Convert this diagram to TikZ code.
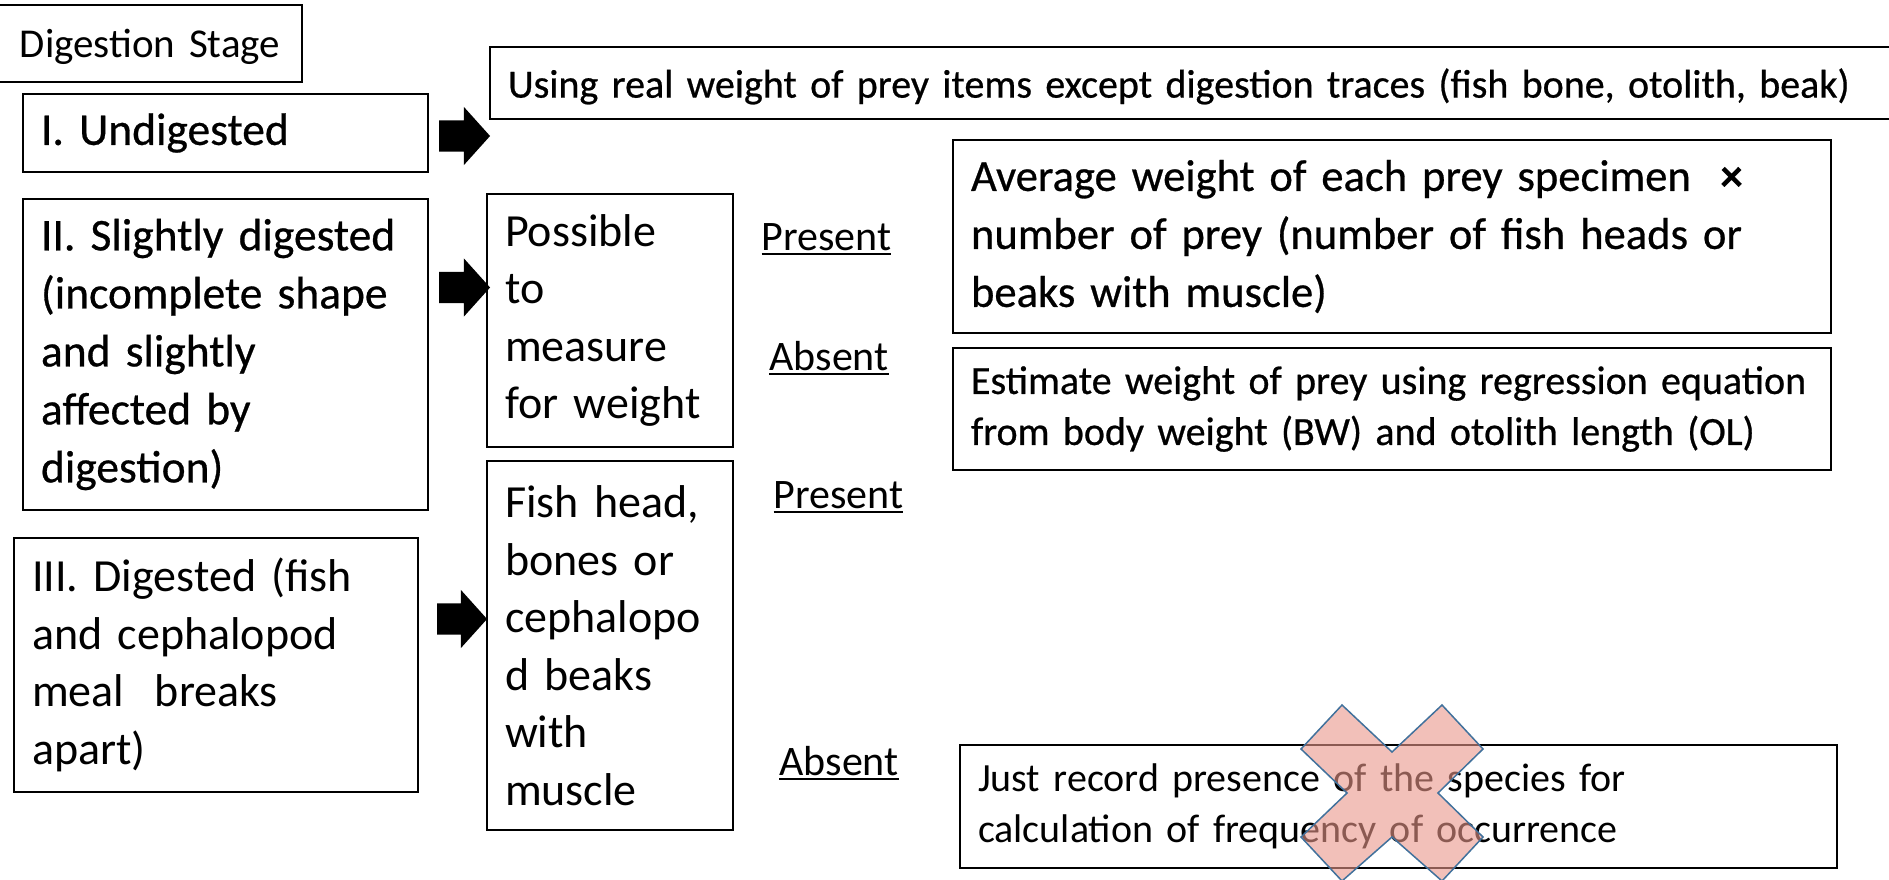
\documentclass[tikz,border=0pt]{standalone}
\usepackage{fontspec}
\setmainfont{Carlito}
\usetikzlibrary{shapes.arrows,positioning}
\definecolor{crossfill}{RGB}{233,150,138}
\definecolor{crossline}{RGB}{65,113,156}
\newcommand{\underword}[1]{\setbox0=\hbox{#1}\rlap{\rule[-5pt]{\wd0}{2pt}}\box0}

\begin{document}
\begin{tikzpicture}[
  x=1pt, y=-1pt,
  box/.style={draw, line width=1.8pt, anchor=north west, align=left, inner xsep=18pt, inner ysep=0pt, outer sep=0pt},
  stagehead/.style={font=\fontsize{41}{46}\selectfont},
  big/.style={font=\fontsize{45.5}{58}\selectfont\addfontfeature{FakeBold=0.6}},
  light/.style={font=\fontsize{46}{57.5}\selectfont},
  wide/.style={font=\fontsize{44.6}{58}\selectfont\addfontfeature{FakeBold=0.6}},
  plain/.style={font=\fontsize{40}{51}\selectfont\addfontfeature{FakeBold=0.6}},
  thin/.style={font=\fontsize{40}{51}\selectfont},
  blockarrow/.style={single arrow, fill=black, draw=none, minimum width=58pt, minimum height=51pt,
    single arrow head extend=13.5pt, single arrow tip angle=96, inner xsep=0pt, inner ysep=15.5pt, outer sep=0pt},
  answer/.style={anchor=base, font=\fontsize{42}{48}\selectfont},
  crossmark/.style={draw=crossline, line width=1.5pt, fill=crossfill, fill opacity=0.6, line join=miter}
]
\useasboundingbox (0,0) rectangle (1889,880);

% digestion stages
\node[box, stagehead, align=center, text width=268pt, text depth=0pt, minimum height=77pt] (stage) at (-2,5) {Digestion Stage};
\node[box, big, text width=369pt, minimum height=78pt] (undig) at (23,94) {I. Undigested};
\node[box, big, text width=369pt, minimum height=311pt] (slight) at (23,199)
  {II. Slightly digested\\(incomplete shape\\and slightly\\affected by\\digestion)};
\node[box, light, text width=368pt, minimum height=254pt] (digest) at (14,538)
  {III. Digested (fish\\and cephalopod\\meal\ \ breaks\\apart)};

% what is left of the prey
\node[box, light, text width=210pt, minimum height=253pt] (measure) at (487,194)
  {Possible\\to\\measure\\for weight};
\node[box, light, text width=210pt, minimum height=369pt] (remains) at (487,461)
  {Fish head,\\bones or\\cephalopo\\d beaks\\with\\muscle};

% block arrows
\node[blockarrow] (arrI) at (457.5,136) {};
\node[blockarrow] (arrII) at (457.5,287.5) {};
\node[blockarrow, minimum height=50pt] (arrIII) at (455,619) {};

% present / absent
\node[answer] (presI) at (826.5,250) {\underword{Present}};
\node[answer] (absI) at (829,370) {\underword{Absent}};
\node[answer] (presII) at (838.5,508) {\underword{Present}};
\node[answer] (absII) at (839,775) {\underword{Absent}};

% methods
\node[box, plain, text width=1384pt, text depth=0pt, minimum height=72pt] (real) at (490,47)
  {Using real weight of prey items except digestion traces (fish bone, otolith, beak)};
\node[box, wide, text width=842pt, minimum height=193pt] (average) at (953,140)
  {Average weight of each prey specimen \ {\bfseries ×}\\number of prey (number of fish heads or\\beaks with muscle)};
\node[box, plain, text width=842pt, minimum height=122pt] (estimate) at (953,348)
  {Estimate weight of prey using regression equation\\from body weight (BW) and otolith length (OL)};
\node[box, thin, text width=841pt, minimum height=123pt] (record) at (960,745)
  {Just record presence of the species for\\calculation of frequency of occurrence};

% crossed out
\coordinate (cross) at (1392,793);
\draw[crossmark, shift={(cross)}] (0,-41) -- (50,-88) -- (91,-44) -- (46,0) -- (91,44) -- (50,88)
  -- (0,44) -- (-50,88) -- (-91,44) -- (-45,0) -- (-91,-44) -- (-50,-88) -- cycle;

\end{tikzpicture}
\end{document}
